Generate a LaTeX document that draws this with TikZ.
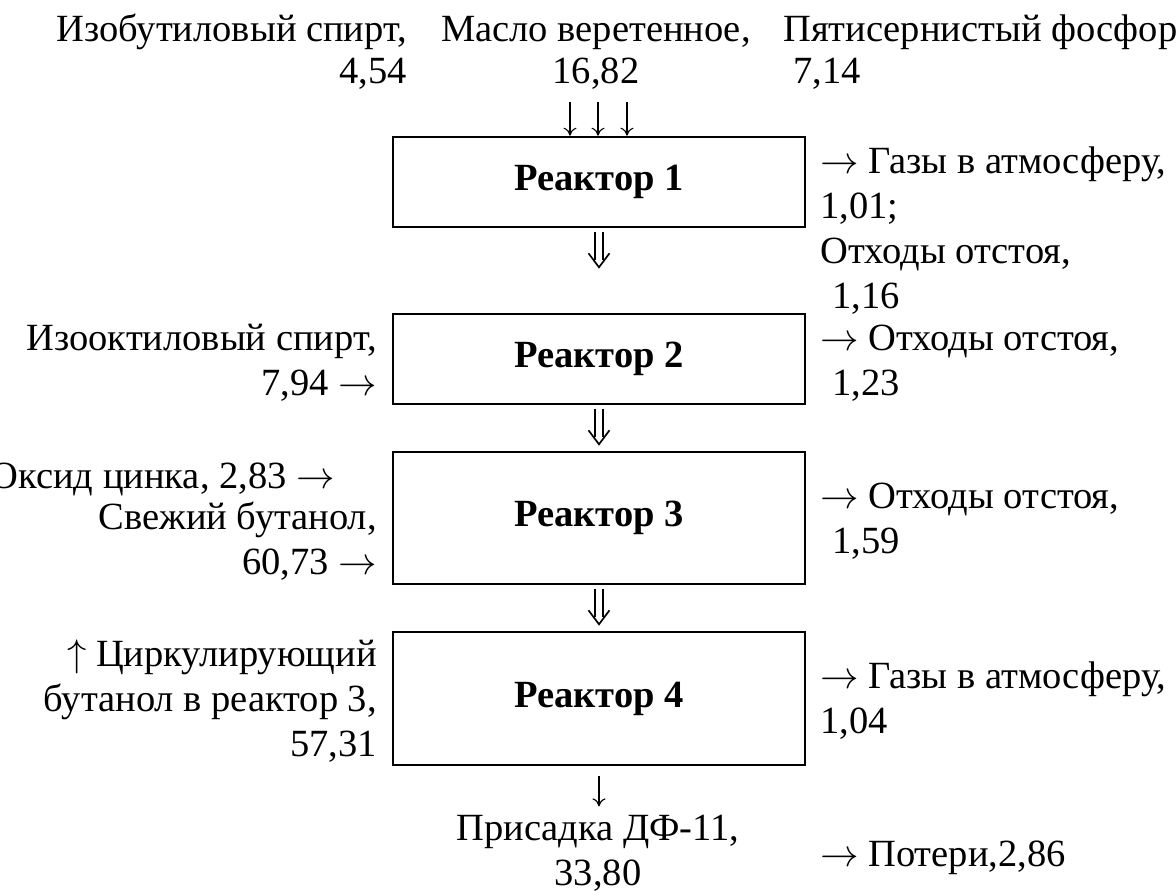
\documentclass[tikz,border=0pt]{standalone}
\usepackage{fix-cm}
\usepackage{fontspec}
\setmainfont{Liberation Serif}
\usetikzlibrary{arrows.meta,calc}
\newcommand{\ra}{$\rightarrow$}
\newcommand{\ua}{$\uparrow$}
\begin{document}
\begin{tikzpicture}[x=1pt,y=-1pt,
  every node/.style={font=\fontsize{38.5}{45}\selectfont, inner sep=0pt},
  topfont/.style={font=\fontsize{38.5}{42}\selectfont},
  reactor/.style={draw, line width=2.6pt, minimum width=412pt,
    font=\fontsize{38.5}{45}\selectfont\bfseries},
  lbl/.style={align=left, anchor=base west},
  rlbl/.style={align=right, anchor=base east},
  clbl/.style={align=center, anchor=base},
  flow/.style={line width=1.1pt, -{To[length=8pt,width=13pt]}},
  dstem/.style={double, double distance=5.5pt, line width=1.8pt},
  chev/.style={line width=1.7pt, line join=miter}]
\useasboundingbox (0,0) rectangle (1176,891);

% top inputs (anchored at last line baseline)
\node[rlbl, topfont] (t1) at (407,84) {Изобутиловый спирт,\\4,54};
\node[clbl, topfont] (t2) at (596,84) {Масло веретенное,\\16,82};
\node[lbl, topfont]  (t3) at (783,84) {Пятисернистый фосфор\\\hspace*{10pt}7,14};

% reactors
\node[reactor, minimum height=90pt]  (r1) at (599,182)   {Реактор 1};
\node[reactor, minimum height=90pt]  (r2) at (599,359)   {Реактор 2};
\node[reactor, minimum height=132pt] (r3) at (599,518)   {Реактор 3};
\node[reactor, minimum height=133pt] (r4) at (599,698.5) {Реактор 4};

% top arrows
\coordinate (a1) at (570,102);
\coordinate (a2) at (598,102);
\coordinate (a3) at (627,102);
\draw[flow] (a1) -- (a1 |- r1.north);
\draw[flow] (a2) -- (a2 |- r1.north);
\draw[flow] (a3) -- (a3 |- r1.north);

% between reactors (double arrows)
\draw[dstem, shorten <=4pt, shorten >=53pt] (r1.south) -- (r2.north);
\draw[chev] ($(r1.south)+(-10.5,25)$) -- ++(10.5,14) -- ++(10.5,-14);
\draw[dstem, shorten <=4pt, shorten >=14pt] (r2.south) -- (r3.north);
\draw[chev] ($(r2.south)+(-10.5,25)$) -- ++(10.5,14) -- ++(10.5,-14);
\draw[dstem, shorten <=4pt, shorten >=14pt] (r3.south) -- (r4.north);
\draw[chev] ($(r3.south)+(-10.5,25)$) -- ++(10.5,14) -- ++(10.5,-14);

% right side outputs
\node[lbl] (o1) at (820,308) {\ra{} Газы в атмосферу,\\1,01;\\Отходы отстоя,\\\hspace*{12pt}1,16};
\node[lbl] (o2) at (820,395) {\ra{} Отходы отстоя,\\\hspace*{12pt}1,23};
\node[lbl] (o3) at (820,553) {\ra{} Отходы отстоя,\\\hspace*{12pt}1,59};
\node[lbl] (o4) at (820,733) {\ra{} Газы в атмосферу,\\1,04};

% left side inputs
\node[rlbl] (i2)  at (377,395) {Изооктиловый спирт,\\7,94 \ra};
\node[rlbl] (i3a) at (335,488) {Оксид цинка, 2,83 \ra};
\node[rlbl] (i3b) at (377,574) {Свежий бутанол,\\60,73 \ra};
\node[rlbl] (i4)  at (377,756) {\ua{} Циркулирующий\\бутанол в реактор 3,\\57,31};

% product
\node[clbl] (p) at (598,885) {Присадка ДФ-11,\\33,80};
\draw[flow, shorten <=10pt, shorten >=8pt] (r4.south) -- (r4.south |- p.north);
\node[lbl] (loss) at (820,866) {\ra{} Потери,2,86};
\end{tikzpicture}
\end{document}
